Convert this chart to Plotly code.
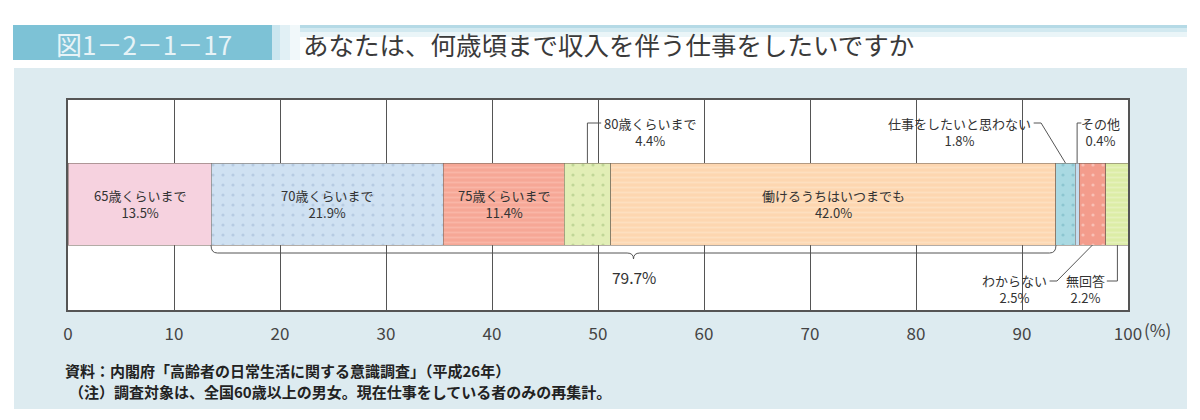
"""Stacked 100% bar: up to what age do you want to work for income"""
import plotly.graph_objects as go

categories = ['65歳くらいまで', '70歳くらいまで', '75歳くらいまで', '80歳くらいまで',
              '働けるうちはいつまでも', '仕事をしたいと思わない', 'その他',
              'わからない', '無回答']
values = [13.5, 21.9, 11.4, 4.4, 42.0, 1.8, 0.4, 2.5, 2.2]
tick_vals = [0, 10, 20, 30, 40, 50, 60, 70, 80, 90, 100]
tick_text = ['0', '10', '20', '30', '40', '50', '60', '70', '80', '90', '100']
working_total = 79.7

title_no = '図1－2－1－17'
title_text = 'あなたは、何歳頃まで収入を伴う仕事をしたいですか'
note_source = '資料：内閣府「高齢者の日常生活に関する意識調査」（平成26年）'
note_remark = '（注）調査対象は、全国60歳以上の男女。現在仕事をしている者のみの再集計。'

FONT = 'Noto Sans CJK JP'
TEXT_COLOUR = '#333333'
LINE_COLOUR = '#555555'
PANEL_COLOUR = '#DDEBF0'
BOX_COLOUR = '#7DC2D6'

# fill colour, pattern shape, pattern colour
STYLES = [
    ('#F6D2DF', '', None),
    ('#CFE1F2', '.', '#9DB6D2'),
    ('#F6A796', '-', '#FBC6B8'),
    ('#E2EEB6', '.', '#9DBE78'),
    ('#FDD6B0', '-', '#FEE8D0'),
    ('#A9D9E2', '.', '#6FB1BE'),
    ('#C4DCEF', '', None),
    ('#F39C8C', '.', '#FFE4DE'),
    ('#DCEDA6', '-', '#EEF6D0'),
]

# the page has an 8px body margin, so the figure is drawn 8px in from the corner
PAGE_OFF = 8
W, H = 1200 - PAGE_OFF, 420 - PAGE_OFF
PLOT_L, PLOT_R, PLOT_T, PLOT_B = 68, 1128, 100, 310  # in screen pixels
ML, MT = PLOT_L - PAGE_OFF, PLOT_T - PAGE_OFF
MR, MB = 1200 - PLOT_R, 420 - PLOT_B
PW, PH = PLOT_R - PLOT_L, PLOT_B - PLOT_T


def xp(px):
    return (px - PLOT_L) / PW


def yp(py):
    return (PLOT_B - py) / PH


BAR_BOTTOM = yp(245)
BAR_TOP = yp(163)
BAR_MID = (BAR_BOTTOM + BAR_TOP) / 2

fig = go.Figure()

lefts = []
acc = 0.0
for cat, v, (col, shape, fg) in zip(categories, values, STYLES):
    lefts.append(acc)
    acc += v
    marker = dict(color=col, line=dict(color='rgba(110,95,85,0.65)', width=0.8))
    if shape:
        marker['pattern'] = dict(shape=shape, fgcolor=fg, fillmode='overlay',
                                 size=10 if shape == '.' else 5,
                                 solidity=0.08 if shape == '.' else 0.35)
    fig.add_trace(go.Bar(x=[v], y=[BAR_MID], width=BAR_TOP - BAR_BOTTOM,
                         orientation='h', name=cat, marker=marker,
                         hovertemplate=cat + ' %{x}%<extra></extra>'))

centres = [l + v / 2 for l, v in zip(lefts, values)]

annotations = []
shapes = []


def label(text, x, y, xanchor='center', size=13, xref='x', yref='paper', **kw):
    annotations.append(dict(text=text, x=x, y=y, xref=xref, yref=yref,
                            xanchor=xanchor, yanchor='middle', showarrow=False,
                            align='center', borderpad=0,
                            font=dict(family=FONT, size=size, color=TEXT_COLOUR), **kw))


def leader(points):
    path = 'M ' + ' L '.join(f'{x},{y}' for x, y in points)
    shapes.append(dict(type='path', path=path, xref='x', yref='paper',
                       line=dict(color=LINE_COLOUR, width=1)))


# labels inside the bar
for i in [0, 1, 2, 4]:
    label(f'{categories[i]}<br>{values[i]:.1f}%', centres[i], BAR_MID)

# upper labels with leaders
top_line = yp(123)
label(f'{categories[3]}<br>{values[3]:.1f}%', 50.45, yp(132), xanchor='left')
leader([(centres[3], BAR_TOP), (centres[3], top_line), (50.3, top_line)])

label(f'{categories[5]}<br>{values[5]:.1f}%', 90.95, yp(132), xanchor='right')
leader([(91.1, top_line), (91.8, top_line), (centres[5], BAR_TOP)])

label(f'{categories[6]}<br>{values[6]:.1f}%', 95.5, yp(132), xanchor='left')
leader([(95.6, top_line), (centres[6], top_line), (centres[6], BAR_TOP)])

# lower labels with leaders
low_line = yp(281)
label(f'{categories[7]}<br>{values[7]:.1f}%', 92.45, yp(289), xanchor='right')
leader([(92.6, low_line), (93.3, low_line), (centres[7], BAR_BOTTOM)])

label(f'{categories[8]}<br>{values[8]:.1f}%', 95.95, yp(289))
leader([(98.0, low_line), (centres[8], low_line), (centres[8], BAR_BOTTOM)])

# brace under the "want to keep working" group
b0 = lefts[1]
b1 = lefts[5]
bm = (b0 + b1) / 2
by = yp(253)
tip = yp(259)
rx, ry = 0.6, 0.035
brace = (f'M {b0},{BAR_BOTTOM} L {b0},{by + ry} Q {b0},{by} {b0 + rx},{by} '
         f'L {bm - 0.6},{by} Q {bm},{by} {bm},{tip} Q {bm},{by} {bm + 0.6},{by} '
         f'L {b1 - rx},{by} Q {b1},{by} {b1},{by + ry} L {b1},{BAR_BOTTOM}')
shapes.append(dict(type='path', path=brace, xref='x', yref='paper',
                   line=dict(color=LINE_COLOUR, width=1)))
label(f'{working_total:.1f}%', bm, yp(277), size=15.5)

# axis unit
annotations.append(dict(text='(%)', x=100, y=yp(329), xref='x', yref='paper',
                        xanchor='left', yanchor='middle', xshift=14, showarrow=False,
                        font=dict(family=FONT, size=17, color='#444444')))

# background panel, white plot area, title band
shapes.insert(0, dict(type='rect', xref='paper', yref='paper', layer='below',
                      x0=xp(14), x1=xp(1187), y0=yp(409), y1=yp(68),
                      fillcolor=PANEL_COLOUR, line=dict(width=0)))
shapes.insert(1, dict(type='rect', xref='paper', yref='paper', layer='below',
                      x0=0, x1=1, y0=0, y1=1, fillcolor='white', line=dict(width=0)))
for (t, b, c) in [(25, 28, '#B5DAE6'), (28, 32, '#D2E9F0'), (32, 37, '#EAF5F8')]:
    shapes.append(dict(type='rect', xref='paper', yref='paper', layer='below',
                       x0=xp(272), x1=xp(1187), y0=yp(b), y1=yp(t),
                       fillcolor=c, line=dict(width=0)))
for (l, r, c) in [(272, 280, '#CBE6EF'), (280, 290, '#E1F0F5'), (290, 300, '#F1F8FA')]:
    shapes.append(dict(type='rect', xref='paper', yref='paper', layer='below',
                       x0=xp(l), x1=xp(r), y0=yp(60), y1=yp(25),
                       fillcolor=c, line=dict(width=0)))
shapes.append(dict(type='rect', xref='paper', yref='paper',
                   x0=xp(13), x1=xp(272), y0=yp(60), y1=yp(25),
                   fillcolor=BOX_COLOUR, line=dict(width=0)))

annotations.append(dict(text=title_no, x=xp(144), y=yp(43), xref='paper', yref='paper',
                        xanchor='center', yanchor='middle', showarrow=False,
                        font=dict(family=FONT, size=26, color='#E6F3F7')))
annotations.append(dict(text=title_text, x=xp(301), y=yp(43), xref='paper', yref='paper',
                        xanchor='left', yanchor='middle', showarrow=False,
                        font=dict(family=FONT, size=25.5, color='#3A3A3A')))
annotations.append(dict(text=note_source, x=xp(64), y=yp(370), xref='paper', yref='paper',
                        xanchor='left', yanchor='middle', showarrow=False, borderpad=0,
                        font=dict(family=FONT, size=15, color='#222222', weight='bold')))
annotations.append(dict(text=note_remark, x=xp(68), y=yp(391), xref='paper', yref='paper',
                        xanchor='left', yanchor='middle', showarrow=False, borderpad=0,
                        font=dict(family=FONT, size=15, color='#222222', weight='bold')))

fig.update_layout(
    width=W, height=H,
    margin=dict(l=ML, r=MR, t=MT, b=MB),
    barmode='stack',
    showlegend=False,
    paper_bgcolor='white',
    plot_bgcolor='white',
    shapes=shapes,
    annotations=annotations,
    font=dict(family=FONT, color=TEXT_COLOUR),
)
fig.update_xaxes(range=[0, 100], tickvals=tick_vals, ticktext=tick_text,
                 showgrid=True, gridcolor=LINE_COLOUR, gridwidth=1,
                 zeroline=False, showline=True, mirror=True, linecolor=LINE_COLOUR,
                 linewidth=1.5, ticks='', ticklabelstandoff=8,
                 tickfont=dict(family=FONT, size=17, color='#444444'), fixedrange=True)
fig.update_yaxes(range=[0, 1], showgrid=False, zeroline=False, showticklabels=False,
                 showline=True, mirror=True, linecolor=LINE_COLOUR, linewidth=1.5,
                 ticks='', fixedrange=True)

fig.write_html('out.html')
